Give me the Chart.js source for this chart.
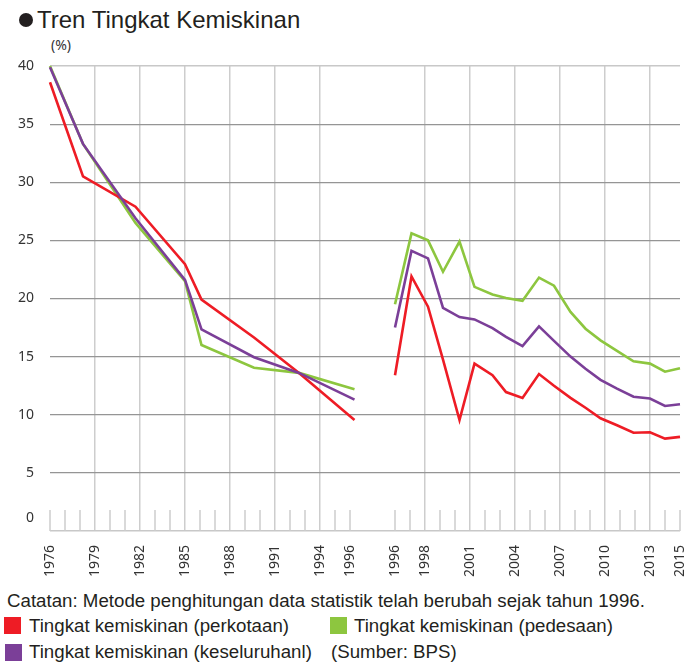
<!DOCTYPE html>
<html>
<head>
<meta charset="utf-8">
<script src="https://cdn.jsdelivr.net/npm/chart.js@4.4.1/dist/chart.umd.min.js"></script>
<style>
  body { margin: 0; width: 688px; height: 662px; position: relative; background: #fff; overflow: hidden;
         font-family: "Liberation Sans", Arial, sans-serif; color: #231f20; }
  #wadah { position: absolute; left: 0; top: 0; width: 688px; height: 590px; }
  .teks { position: absolute; white-space: nowrap; line-height: 1; }
  #bulat { position: absolute; left: 19px; top: 13px; width: 14px; height: 14px; border-radius: 50%; background: #231f20; }
  #judul { left: 37px; top: 8px; font-size: 24px; }
  #satuan { left: 51px; top: 38px; font-family: "Noto Sans", sans-serif; font-size: 14px; color: #333; }
  .kotak { position: absolute; width: 17px; height: 17px; }
  .catatan { font-size: 18.7px; }
</style>
</head>
<body>
<div id="bulat"></div>
<div id="judul" class="teks">Tren Tingkat Kemiskinan</div>
<div id="satuan" class="teks">(%)</div>
<div id="wadah"><canvas id="grafik" width="688" height="590"></canvas></div>

<div class="teks catatan" style="left:7px; top:592px;">Catatan: Metode penghitungan data statistik telah berubah sejak tahun 1996.</div>
<div class="kotak" style="left:4px; top:617px; background:#ee1c25;"></div>
<div class="teks catatan" style="left:29px; top:617px;">Tingkat kemiskinan (perkotaan)</div>
<div class="kotak" style="left:330px; top:617px; background:#8dc63f;"></div>
<div class="teks catatan" style="left:354px; top:617px;">Tingkat kemiskinan (pedesaan)</div>
<div class="kotak" style="left:5px; top:644px; background:#7b3f98;"></div>
<div class="teks catatan" style="left:29px; top:643px;">Tingkat kemiskinan (keseluruhanl)</div>
<div class="teks catatan" style="left:331px; top:643px;">(Sumber: BPS)</div>

<script>
// posisi titik pada sumbu tahun (metode lama s/d 1996, metode baru sejak 1996)
const tahunLama = [1976, 1978.2, 1981.7, 1985.0, 1986.1, 1989.6, 1992.6, 1996.3];
const tahunBaru = [1996.0, 1997.1, 1998.2, 1999.2, 2000.3, 2001.3, 2002.5, 2003.4, 2004.5, 2005.6,
                   2006.6, 2007.7, 2008.7, 2009.7, 2010.8, 2011.9, 2013.0, 2014.0, 2015.0];

// Tingkat kemiskinan (%)
const kotaLama = [38.6, 30.5, 27.9, 22.95, 19.9, 16.65, 13.6, 9.55];
const desaLama = [40.0, 33.3, 26.5, 21.5, 16.0, 14.05, 13.6, 12.2];
const totalLama = [39.9, 33.3, 26.9, 21.6, 17.35, 14.95, 13.6, 11.3];

const kotaBaru = [13.4, 21.9, 19.3, 14.75, 9.55, 14.4, 13.4, 11.95, 11.45, 13.5,
                  12.5, 11.45, 10.6, 9.7, 9.1, 8.45, 8.5, 7.95, 8.1];
const desaBaru = [19.5, 25.6, 25.0, 22.3, 24.9, 21.0, 20.35, 20.05, 19.8, 21.8,
                  21.1, 18.85, 17.4, 16.4, 15.5, 14.6, 14.4, 13.7, 14.0];
const totalBaru = [17.5, 24.1, 23.45, 19.2, 18.4, 18.2, 17.45, 16.7, 15.9, 17.6,
                   16.35, 15.0, 13.95, 13.0, 12.25, 11.55, 11.4, 10.75, 10.9];

// label sumbu X
const labelLama = [1976, 1979, 1982, 1985, 1988, 1991, 1994, 1996];
const labelBaru = [1996, 1998, 2001, 2004, 2007, 2010, 2013, 2015];
const garisLama = [1979, 1982, 1985, 1988, 1991, 1994];
const garisBaru = [1998, 2001, 2004, 2007, 2010, 2013];

const yTicks = [0, 5, 10, 15, 20, 25, 30, 35, 40];

// sumbu X: 0..20 = 1976..1996 (lama), 23..42 = 1996..2015 (baru)
const GESER_BARU = 1973;
const posLama = t => t - 1976;
const posBaru = t => t - GESER_BARU;

const posLabel = labelLama.map(posLama).concat(labelBaru.map(posBaru));
const posGaris = garisLama.map(posLama).concat(garisBaru.map(posBaru));

function susunData(lama, baru) {
    const a = tahunLama.map((t, i) => ({ x: posLama(t), y: lama[i] }));
    const b = tahunBaru.map((t, i) => ({ x: posBaru(t), y: baru[i] }));
    return a.concat([{ x: 21.5, y: null }], b);
}

function tulisLabel(v) {
    if (!posLabel.includes(v)) return '';
    return String(v <= 20 ? 1976 + v : GESER_BARU + v);
}

const fontAngka = { family: '"Noto Sans", sans-serif', size: 14 };

// garis tahun pendek di bawah + label 0 yang agak naik
const tandaTahun = {
    id: 'tandaTahun',
    beforeDatasetsDraw(chart) {
        const { ctx, scales: { x, y } } = chart;
        const bawah = y.getPixelForValue(0);
        ctx.save();
        ctx.strokeStyle = '#cdcdcd';
        ctx.lineWidth = 1.5;
        x.ticks.forEach(t => {
            if (posGaris.includes(t.value)) return;
            const px = x.getPixelForValue(t.value);
            ctx.beginPath();
            ctx.moveTo(px, bawah);
            ctx.lineTo(px, bawah - 21);
            ctx.stroke();
        });
        ctx.fillStyle = '#333';
        ctx.font = '14px "Noto Sans", sans-serif';
        ctx.textAlign = 'right';
        ctx.textBaseline = 'middle';
        ctx.fillText('0', y.right - 16, bawah - 13);
        ctx.restore();
    }
};

new Chart(document.getElementById('grafik').getContext('2d'), {
    type: 'line',
    data: {
        datasets: [
            { label: 'Tingkat kemiskinan (keseluruhanl)', data: susunData(totalLama, totalBaru), borderColor: '#7b3f98' },
            { label: 'Tingkat kemiskinan (perkotaan)', data: susunData(kotaLama, kotaBaru), borderColor: '#ee1c25' },
            { label: 'Tingkat kemiskinan (pedesaan)', data: susunData(desaLama, desaBaru), borderColor: '#8dc63f' }
        ]
    },
    options: {
        responsive: false,
        animation: false,
        devicePixelRatio: 1,
        layout: { padding: { top: 66, right: 8, left: 0, bottom: 0 } },
        elements: {
            line: { borderWidth: 2.6, tension: 0, fill: false },
            point: { radius: 0 }
        },
        datasets: { line: { clip: false, spanGaps: false } },
        plugins: { legend: { display: false }, tooltip: { enabled: false } },
        scales: {
            x: {
                type: 'linear',
                min: 0,
                max: 42,
                afterBuildTicks: s => {
                    const arr = [];
                    for (let v = 0; v <= 42; v++) {
                        if (v === 21 || v === 22) continue;
                        arr.push({ value: v });
                    }
                    s.ticks = arr;
                },
                afterFit: s => {
                    s.height = 59;
                    s.paddingLeft = 0;
                    s.paddingRight = 0;
                },
                ticks: {
                    autoSkip: false,
                    minRotation: 90,
                    maxRotation: 90,
                    padding: 14,
                    color: '#333',
                    font: fontAngka,
                    callback: v => tulisLabel(v)
                },
                grid: {
                    drawTicks: false,
                    lineWidth: 1.5,
                    color: c => posGaris.includes(c.tick.value) ? '#cdcdcd' : 'rgba(0,0,0,0)'
                },
                border: { display: false }
            },
            y: {
                min: 0,
                max: 40,
                afterBuildTicks: s => { s.ticks = yTicks.map(v => ({ value: v })); },
                afterFit: s => {
                    s.width = 50;
                    s.paddingTop = 0;
                    s.paddingBottom = 0;
                },
                ticks: {
                    padding: 16,
                    color: '#333',
                    font: fontAngka,
                    callback: v => v === 0 ? '' : String(v)
                },
                grid: {
                    drawTicks: false,
                    lineWidth: c => (c.tick.value === 0 || c.tick.value === 40) ? 1.5 : 1.2,
                    color: c => (c.tick.value === 0 || c.tick.value === 40) ? '#c8c8c8' : '#959595'
                },
                border: { display: false }
            }
        }
    },
    plugins: [tandaTahun]
});
</script>
</body>
</html>
